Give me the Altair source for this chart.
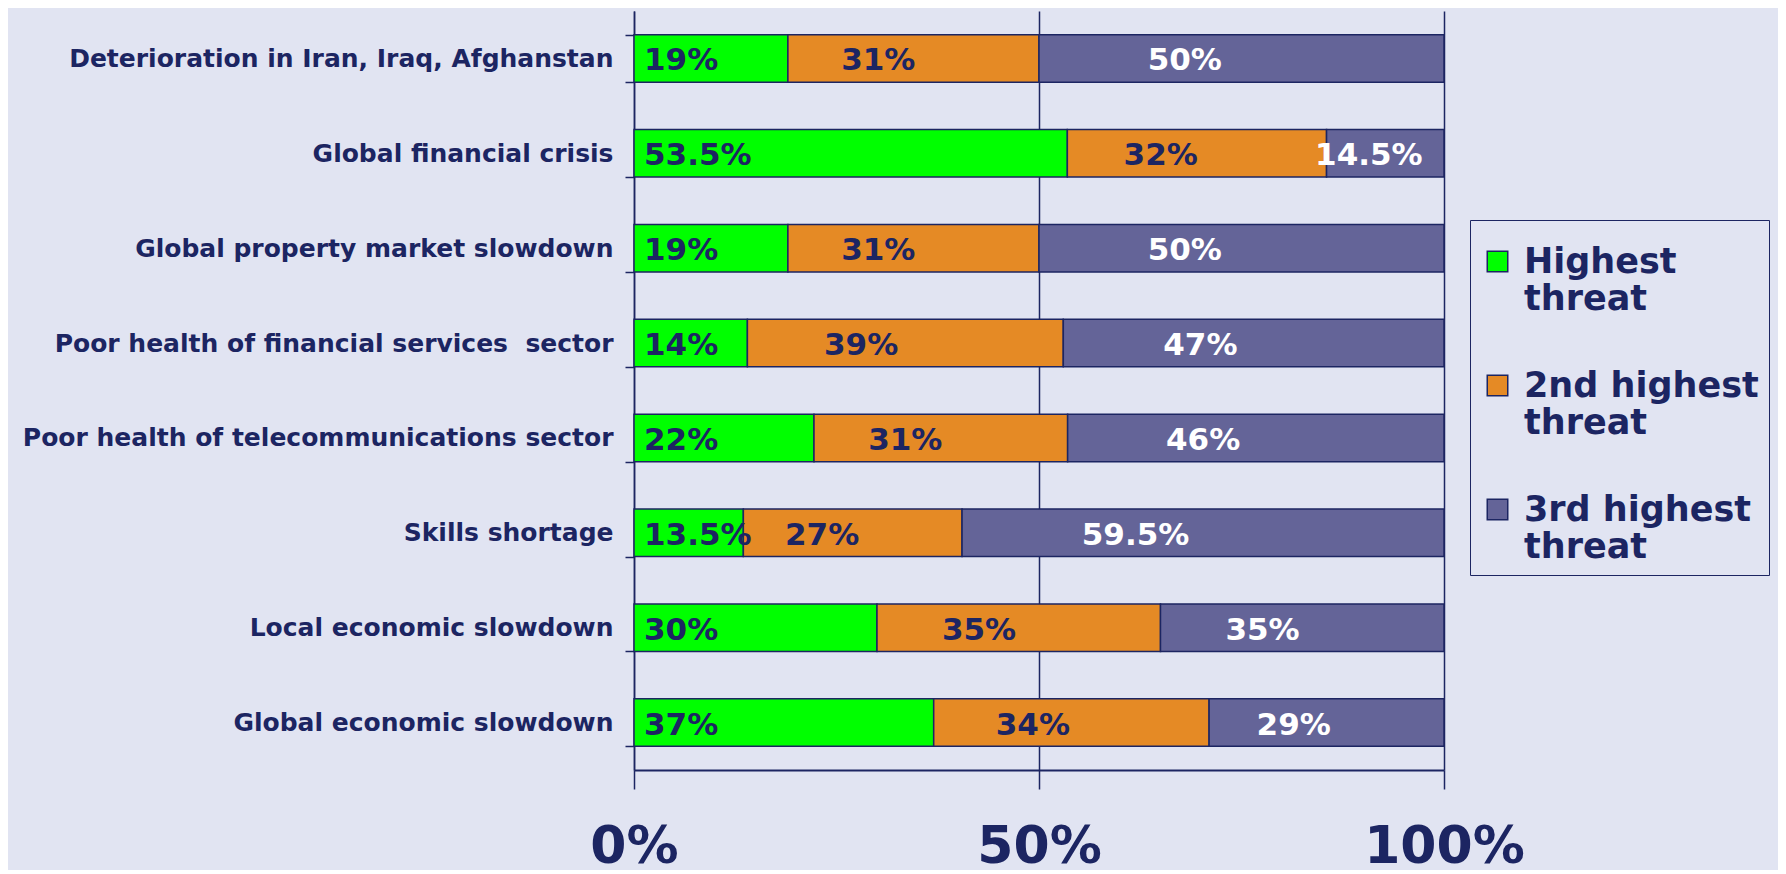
import altair as alt
import pandas as pd

categories = [
    "Deterioration in Iran, Iraq, Afghanstan",
    "Global financial crisis",
    "Global property market slowdown",
    "Poor health of financial services\u00a0 sector",
    "Poor health of telecommunications sector",
    "Skills shortage",
    "Local economic slowdown",
    "Global economic slowdown",
]
highest = [19, 53.5, 19, 14, 22, 13.5, 30, 37]
second = [31, 32, 31, 39, 31, 27, 35, 34]
third = [50, 14.5, 50, 47, 46, 59.5, 35, 29]
series = ["Highest threat", "2nd highest threat", "3rd highest threat"]
colors = ["#00FF00", "#E58A25", "#646498"]
x_ticks = [0, 0.5, 1]

NAVY = "#1C2562"
BG = "#E1E4F2"
FONT = "DejaVu Sans"

rows = []
for i, c in enumerate(categories):
    for j, (s, vals) in enumerate(zip(series, [highest, second, third])):
        v = vals[i]
        rows.append({"category": c, "series": s, "order": j, "value": v,
                     "label": f"{v:g}%"})
df = pd.DataFrame(rows)

base = (
    alt.Chart(df)
    .transform_joinaggregate(total="sum(value)", groupby=["category"])
    .transform_calculate(frac="datum.value / datum.total")
    .transform_stack(stack="frac", groupby=["category"], as_=["x0", "x1"],
                     sort=[alt.SortField("order", "ascending")])
    .transform_calculate(pos="datum.order == 0 ? datum.x0 : datum.x0 + 0.36 * (datum.x1 - datum.x0)")
)

y_enc = alt.Y(
    "category:N", sort=categories, title=None,
    scale=alt.Scale(paddingInner=0.5, paddingOuter=0.25),
    axis=alt.Axis(
        labelFont=FONT, labelFontSize=25, labelFontWeight="bold", labelColor=NAVY,
        labelLimit=800, labelPadding=12, tickBand="extent", tickSize=9,
        tickColor=NAVY, tickWidth=1.5, domainColor=NAVY, domainWidth=1.5,
        grid=False,
    ),
)

x_enc = alt.X(
    "x0:Q", title=None,
    scale=alt.Scale(domain=[0, 1], nice=False, zero=True),
    axis=alt.Axis(
        values=x_ticks, format=".0%", labelFont=FONT, labelFontSize=52,
        labelFontWeight="bold", labelColor=NAVY, labelPadding=32, labelFlush=False,
        tickSize=19, tickColor=NAVY, tickWidth=1.5, domainColor=NAVY,
        domainWidth=2, grid=True, gridColor=NAVY, gridWidth=1.5,
    ),
)

bars = base.mark_bar(stroke=NAVY, strokeWidth=1.5, opacity=1).encode(
    y=y_enc,
    x=x_enc,
    x2="x1:Q",
    color=alt.Color(
        "series:N", sort=series,
        scale=alt.Scale(domain=series, range=colors),
        legend=alt.Legend(
            title=" ", titleFontSize=8, titlePadding=6,
            orient="none", legendX=836, legendY=209,
            direction="vertical", fillColor=BG, strokeColor=NAVY, padding=10,
            symbolType="square", symbolSize=420, symbolStrokeColor=NAVY,
            symbolStrokeWidth=1.5, symbolOpacity=1,
            labelFont=FONT, labelFontSize=35, labelFontWeight="bold",
            labelColor=NAVY, labelLimit=600, labelOffset=9,
            labelExpr="[replace(datum.label, ' threat', ''), 'threat']",
            rowPadding=51,
        ),
    ),
    order=alt.Order("order:Q"),
)

def text_layer(order, align, color, dx):
    return base.transform_filter(alt.datum.order == order).mark_text(
        align=align, baseline="middle", dx=dx, dy=3, font=FONT, fontSize=31,
        fontWeight="bold", color=color,
    ).encode(
        y=alt.Y("category:N", sort=categories),
        x=alt.X("pos:Q"),
        text="label:N",
    )

chart = (
    alt.layer(
        bars,
        text_layer(0, "left", NAVY, 10),
        text_layer(1, "center", NAVY, 0),
        text_layer(2, "center", "white", 0),
    )
    .properties(
        width=810, height=759,
        autosize=alt.AutoSizeParams(type="none"),
        padding={"left": 626, "top": 3, "right": 334, "bottom": 100},
        background=BG,
    )
    .configure_view(stroke=None)
)

chart.save("out.html", embed_options={"renderer": "svg", "actions": False})
